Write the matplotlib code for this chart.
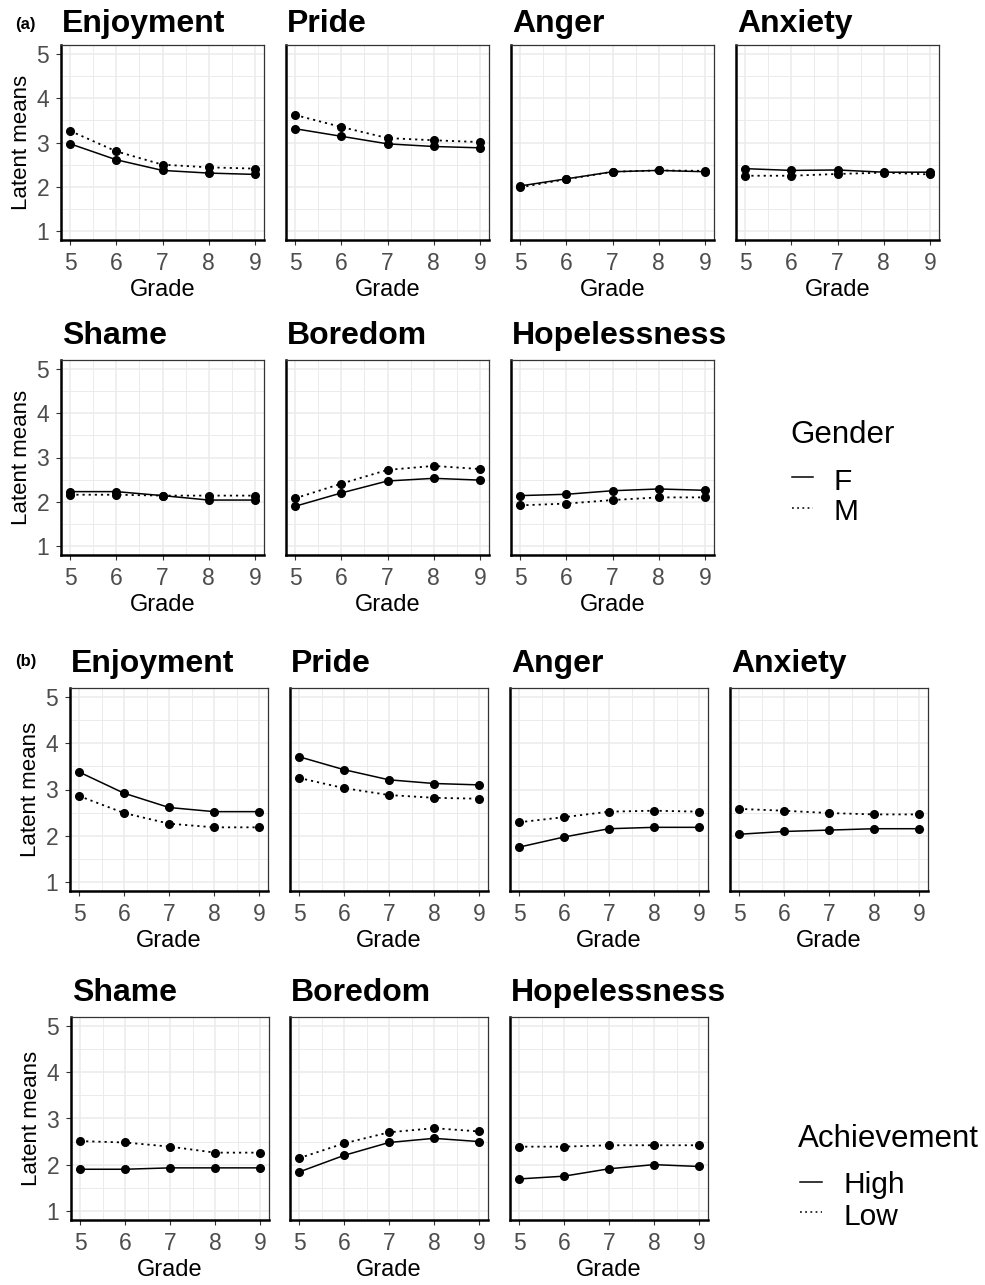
import matplotlib
matplotlib.use("Agg")
import matplotlib.pyplot as plt
from matplotlib.lines import Line2D

plt.rcParams['font.family'] = ['Liberation Sans', 'DejaVu Sans']

W, H = 985, 1285

grades = [5, 6, 7, 8, 9]
emotions = ["Enjoyment", "Pride", "Anger", "Anxiety", "Shame", "Boredom", "Hopelessness"]

# (a) by gender
gender_f = {
    "Enjoyment":    [2.97, 2.61, 2.37, 2.31, 2.28],
    "Pride":        [3.31, 3.14, 2.97, 2.91, 2.88],
    "Anger":        [2.02, 2.18, 2.34, 2.37, 2.34],
    "Anxiety":      [2.41, 2.37, 2.38, 2.33, 2.33],
    "Shame":        [2.23, 2.23, 2.14, 2.04, 2.04],
    "Boredom":      [1.90, 2.20, 2.47, 2.53, 2.49],
    "Hopelessness": [2.14, 2.17, 2.25, 2.29, 2.26],
}
gender_m = {
    "Enjoyment":    [3.26, 2.80, 2.50, 2.44, 2.41],
    "Pride":        [3.62, 3.35, 3.10, 3.05, 3.01],
    "Anger":        [1.99, 2.17, 2.34, 2.37, 2.36],
    "Anxiety":      [2.25, 2.25, 2.29, 2.32, 2.28],
    "Shame":        [2.16, 2.16, 2.14, 2.14, 2.14],
    "Boredom":      [2.08, 2.41, 2.72, 2.81, 2.74],
    "Hopelessness": [1.92, 1.96, 2.04, 2.10, 2.10],
}
# (b) by achievement
ach_high = {
    "Enjoyment":    [3.38, 2.92, 2.61, 2.52, 2.52],
    "Pride":        [3.71, 3.43, 3.21, 3.13, 3.10],
    "Anger":        [1.75, 1.97, 2.15, 2.18, 2.18],
    "Anxiety":      [2.03, 2.09, 2.12, 2.15, 2.15],
    "Shame":        [1.90, 1.90, 1.93, 1.93, 1.93],
    "Boredom":      [1.84, 2.20, 2.48, 2.57, 2.50],
    "Hopelessness": [1.69, 1.75, 1.91, 2.00, 1.96],
}
ach_low = {
    "Enjoyment":    [2.86, 2.49, 2.26, 2.18, 2.18],
    "Pride":        [3.25, 3.03, 2.88, 2.82, 2.80],
    "Anger":        [2.29, 2.40, 2.52, 2.54, 2.52],
    "Anxiety":      [2.58, 2.54, 2.49, 2.46, 2.46],
    "Shame":        [2.51, 2.48, 2.39, 2.26, 2.26],
    "Boredom":      [2.14, 2.46, 2.70, 2.79, 2.72],
    "Hopelessness": [2.39, 2.39, 2.42, 2.42, 2.42],
}

DOT = (0, (1.2, 2.2))


def px(x, y):
    return x / W, 1 - y / H


def add_panel(fig, left, top, width, height):
    return fig.add_axes([left / W, 1 - (top + height) / H, width / W, height / H])


def style(ax, first):
    ax.set_xlim(4.8, 9.2)
    ax.set_ylim(0.8, 5.2)
    ax.set_xticks(grades)
    ax.set_yticks([1, 2, 3, 4, 5])
    ax.set_xticks([5.5, 6.5, 7.5, 8.5], minor=True)
    ax.set_yticks([1.5, 2.5, 3.5, 4.5], minor=True)
    ax.grid(True, which='major', color='#EBEBEB', lw=1.1)
    ax.grid(True, which='minor', color='#EBEBEB', lw=0.7)
    ax.set_axisbelow(True)
    for s in ax.spines.values():
        s.set_color('#333333')
        s.set_linewidth(0.9)
    ax.spines['left'].set_color('black')
    ax.spines['left'].set_linewidth(1.8)
    ax.spines['bottom'].set_color('black')
    ax.spines['bottom'].set_linewidth(1.8)
    ax.tick_params(which='major', direction='out', length=3.5, width=0.8,
                   color='#333333', labelsize=16.5, labelcolor='#4D4D4D', pad=5)
    ax.tick_params(which='minor', length=0)
    ax.set_xlabel("Grade", fontsize=17, labelpad=3)
    if first:
        ax.set_ylabel("Latent means", fontsize=16, labelpad=3)
    else:
        ax.tick_params(axis='y', which='major', length=0, labelleft=False)


def draw_block(fig, solid, dotted, lefts, width, tops, height, title_base):
    for i, emo in enumerate(emotions):
        r, c = divmod(i, 4)
        ax = add_panel(fig, lefts[r][c], tops[r], width, height)
        style(ax, c == 0)
        ax.plot(grades, solid[emo], color='black', lw=1.1, ls='-',
                marker='o', ms=5.5, zorder=3)
        ax.plot(grades, dotted[emo], color='black', lw=1.3, ls=DOT,
                marker='o', ms=5.5, zorder=3)
        fig.text(*px(lefts[r][c] + 1, title_base[r]), emo, fontsize=23,
                 fontweight='bold', ha='left', va='baseline')


fig = plt.figure(figsize=(W / 100, H / 100), dpi=100)

# (a)
draw_block(fig, gender_f, gender_m,
           lefts=[[61, 286, 511, 736], [61, 286, 511]], width=203,
           tops=[45, 360], height=195, title_base=[32, 344])
# (b)
draw_block(fig, ach_high, ach_low,
           lefts=[[70, 290, 510, 730], [71, 290, 510]], width=198,
           tops=[688, 1017], height=203, title_base=[672, 1001])

fig.text(*px(15, 29), "(a)", fontsize=12, fontweight='bold', va='baseline')
fig.text(*px(15, 666), "(b)", fontsize=12, fontweight='bold', va='baseline')


def legend(title, labels, x_title, y_title, x_key, key_len, x_txt, ys_key, ys_txt):
    fig.text(*px(x_title, y_title), title, fontsize=22.5, va='baseline')
    for lab, yk, yt, ls in zip(labels, ys_key, ys_txt, ['-', DOT]):
        x0, y0 = px(x_key, yk)
        x1, _ = px(x_key + key_len, yk)
        fig.add_artist(Line2D([x0, x1], [y0, y0], color='black', lw=1.1, ls=ls,
                              transform=fig.transFigure))
        fig.text(*px(x_txt, yt), lab, fontsize=21.5, va='baseline')


legend("Gender", ["F", "M"], 790, 443, 792, 21, 833, [477, 508], [490, 520])
legend("Achievement", ["High", "Low"], 798, 1147, 800, 22, 843, [1182, 1212], [1193, 1225])

fig.savefig("out.png", dpi=100)
